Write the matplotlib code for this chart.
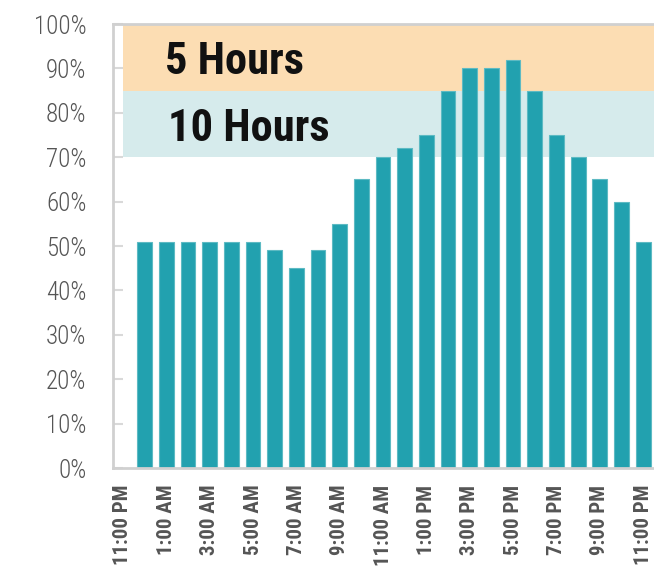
import matplotlib
matplotlib.use("Agg")
import matplotlib.pyplot as plt
from matplotlib import font_manager
import numpy as np

hours = ["11:00 PM", "12:00 AM", "1:00 AM", "2:00 AM", "3:00 AM", "4:00 AM", "5:00 AM",
         "6:00 AM", "7:00 AM", "8:00 AM", "9:00 AM", "10:00 AM", "11:00 AM", "12:00 PM",
         "1:00 PM", "2:00 PM", "3:00 PM", "4:00 PM", "5:00 PM", "6:00 PM", "7:00 PM",
         "8:00 PM", "9:00 PM", "10:00 PM", "11:00 PM"]
occupancy = [np.nan, 51, 51, 51, 51, 51, 51, 49, 45, 49, 55, 65, 70, 72, 75, 85,
             90, 90, 92, 85, 75, 70, 65, 60, 51]
band_labels = ["5 Hours", "10 Hours"]
band_ranges = [(85, 100), (70, 85)]
band_colors = ["#FCDDB3", "#D6EBEC"]
y_ticks = [0, 10, 20, 30, 40, 50, 60, 70, 80, 90, 100]

names = {f.name for f in font_manager.fontManager.ttflist}
narrow = [n for n in ["Roboto Condensed", "Liberation Sans Narrow", "DejaVu Sans Condensed"] if n in names]
fam = narrow + ["DejaVu Sans"]

fig = plt.figure(figsize=(6.54, 5.75), dpi=100)
ax = fig.add_axes([113/654, 1-468/575, 1-113/654, (468-24)/575])

x = np.arange(len(hours))
for (lo, hi), c in zip(band_ranges, band_colors):
    ax.fill_between([0, len(hours) - 0.5], lo, hi, color=c, linewidth=0, zorder=1)

ax.bar(x, occupancy, width=0.68, color="#22A1AF", edgecolor="#5DBAC3",
       linewidth=0.8, zorder=2)

for (lo, hi), lab, xs in zip(band_ranges, band_labels, [1.95, 2.08]):
    ax.text(xs, (lo + hi) / 2 - 1.1, lab, fontsize=32, fontweight="bold",
            family=fam, color="#111111", va="center", ha="left", zorder=3)

ax.set_xlim(-0.46, len(hours) - 0.5)
ax.set_ylim(0, 100)
ax.set_yticks(y_ticks)
ax.set_yticklabels([f"{v}%" for v in y_ticks], family=fam, fontsize=18,
                   fontweight="light", color="#555555")
ax.set_xticks(x[::2])
ax.set_xticklabels(hours[::2], rotation=90, family=fam, fontsize=15,
                   fontweight="bold", color="#555555")
ax.tick_params(axis="y", direction="in", length=7, width=1.5, color="#D9D9D9", pad=19)
ax.tick_params(axis="x", length=0, pad=12)
for s in ["left", "bottom", "top"]:
    ax.spines[s].set_color("#D0D0D0")
    ax.spines[s].set_linewidth(2)
ax.spines["right"].set_visible(False)

fig.savefig("out.png", dpi=100)
